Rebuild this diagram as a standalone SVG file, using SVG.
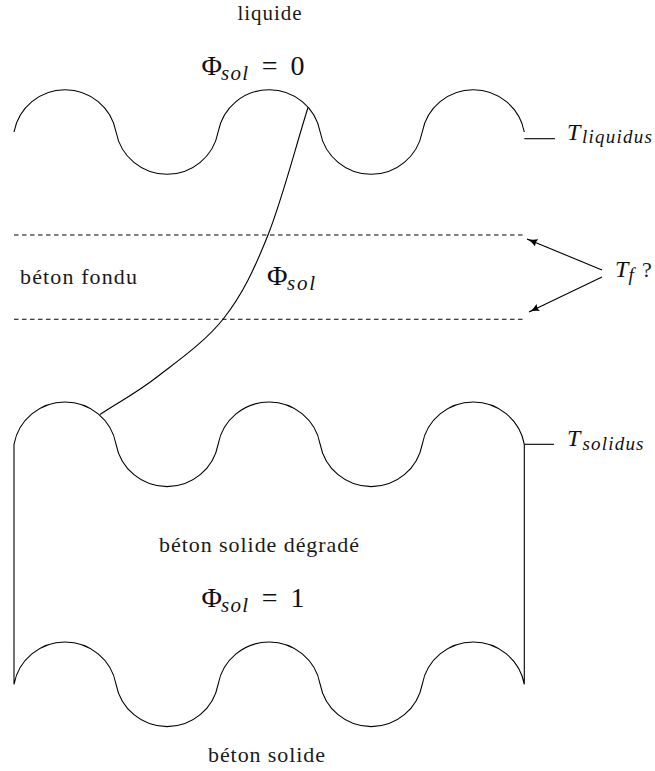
<svg xmlns="http://www.w3.org/2000/svg" width="655" height="771" viewBox="0 0 655 771">
<style>
.ln{fill:none;stroke:#000;stroke-width:1.1}
.dash{fill:none;stroke:#000;stroke-width:1.1;stroke-dasharray:4.5 3.5}
text{font-family:"Liberation Serif","Times New Roman","DejaVu Serif",serif}
.t{fill:#1a1a1a;font-size:22px}
.m{fill:#111;font-size:28px}
.s{fill:#111;font-size:21px;font-style:italic}
.T{fill:#111;font-size:24px;font-style:italic}
.ts{fill:#111;font-size:19px;font-style:italic}
</style>
<defs>
<marker id="ah" viewBox="0 0 11 8" refX="10.5" refY="4" markerWidth="11" markerHeight="8" markerUnits="userSpaceOnUse" orient="auto">
<path d="M11,4 Q5,4.6 0,8 Q2.2,4 0,0 Q5,3.4 11,4 Z" fill="#000"/>
</marker>
</defs>
<rect width="655" height="771" fill="#fff"/>

<g id="liquide">
<path class="ln" d="M14,132 A51.93,51.93 0 0 1 116.06,132 A51.93,51.93 0 0 0 218.12,132 A51.93,51.93 0 0 1 320.18,132 A51.93,51.93 0 0 0 422.24,132 A51.93,51.93 0 0 1 524.3,132"/>
<text class="t" x="269.5" y="20" style="font-size:21px" text-anchor="middle" textLength="64" lengthAdjust="spacing">liquide</text>
<text class="m" x="201.5" y="75">Φ</text>
<text class="s" x="221" y="80" textLength="27" lengthAdjust="spacing">sol</text>
<text class="m" x="269.7" y="75" text-anchor="middle">=</text>
<text class="m" x="297.5" y="75" text-anchor="middle">0</text>
</g>

<g id="liquidus">
<path class="ln" d="M524.3,138.7 L555,138.7"/>
<text class="T" x="567" y="139.5">T</text>
<text class="ts" x="582" y="143" textLength="70" lengthAdjust="spacing">liquidus</text>
</g>

<g id="beton-fondu">
<path class="dash" d="M14,235 L525,235"/>
<path class="dash" d="M14,319.3 L525,319.3"/>
<text class="t" x="20" y="284" textLength="117" lengthAdjust="spacing">béton fondu</text>
<text class="m" x="267" y="285">Φ</text>
<text class="s" x="287" y="290" textLength="28" lengthAdjust="spacing">sol</text>
</g>

<g id="tf">
<text class="T" x="615" y="277">T</text>
<text class="ts" x="628.5" y="281">f</text>
<text class="t" x="642" y="277">?</text>
</g>

<g id="beton-solide-degrade">
<path class="ln" d="M14,444.3 A51.93,51.93 0 0 1 116.06,444.3 A51.93,51.93 0 0 0 218.12,444.3 A51.93,51.93 0 0 1 320.18,444.3 A51.93,51.93 0 0 0 422.24,444.3 A51.93,51.93 0 0 1 524.3,444.3 L524.3,684.3 A51.93,51.93 0 0 0 422.24,684.3 A51.93,51.93 0 0 1 320.18,684.3 A51.93,51.93 0 0 0 218.12,684.3 A51.93,51.93 0 0 1 116.06,684.3 A51.93,51.93 0 0 0 14,684.3 Z"/>
<text class="t" x="259" y="551.7" text-anchor="middle" textLength="200" lengthAdjust="spacing">béton solide dégradé</text>
<text class="m" x="201.5" y="607">Φ</text>
<text class="s" x="221" y="612" textLength="27" lengthAdjust="spacing">sol</text>
<text class="m" x="269.7" y="607" text-anchor="middle">=</text>
<text class="m" x="297.5" y="607" text-anchor="middle">1</text>
</g>

<g id="solidus">
<path class="ln" d="M524.3,444.3 L554,444.3"/>
<text class="T" x="567" y="446">T</text>
<text class="ts" x="582.5" y="450" textLength="61" lengthAdjust="spacing">solidus</text>
</g>

<g id="beton-solide">
<text class="t" x="266.5" y="762" text-anchor="middle" textLength="117" lengthAdjust="spacing">béton solide</text>
</g>

<g id="connectors">
<path class="ln" d="M308,107.5 C294.7,150 282,199.9 268,235 C254,270.1 242.5,294.3 224,318 C205.5,341.7 177.7,360.9 157,377 C136.3,393.1 119,402 100,414.5"/>
<path class="ln" d="M602,270 L527,239" marker-end="url(#ah)"/>
<path class="ln" d="M602,277 L529,312" marker-end="url(#ah)"/>
</g>
</svg>
